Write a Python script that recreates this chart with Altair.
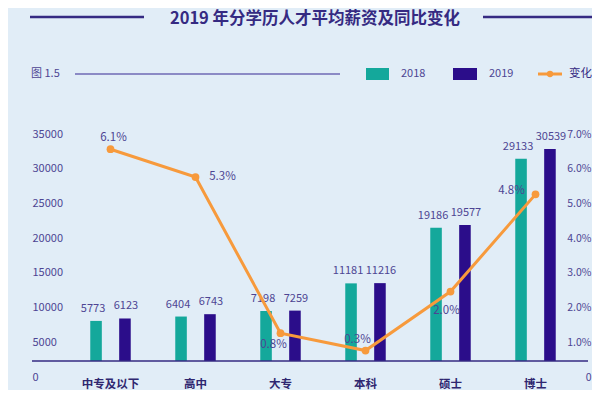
import altair as alt
import pandas as pd

# ---------------- data ----------------
categories = ["中专及以下", "高中", "大专", "本科", "硕士", "博士"]
years = ["2018", "2019"]
salary_2018 = [5773, 6404, 7198, 11181, 19186, 29133]
salary_2019 = [6123, 6743, 7259, 11216, 19577, 30539]
change_pct = [6.1, 5.3, 0.8, 0.3, 2.0, 4.8]
salary_ticks = [0, 5000, 10000, 15000, 20000, 25000, 30000, 35000]
pct_ticks = [0, 1, 2, 3, 4, 5, 6, 7]

title_text = "2019 年分学历人才平均薪资及同比变化"
figure_label = "图 1.5"
line_legend_label = "变化"

# ---------------- style ----------------
W, H = 510, 243
TEAL = "#14a89b"
PURPLE = "#2b0d8a"
ORANGE = "#f79a3c"
TEXT = "#4d4593"
DARK = "#352a82"
CAT_TEXT = "#2f2770"
FIG_LINE = "#6e68b4"
BG = "#e1edf7"
FONT = "Noto Sans CJK SC"

# label placement (pixel nudges) for the percentage labels, per category
pct_label_nudge = {
    "中专及以下": (3, -11),
    "高中": (27, 0),
    "大专": (-7, 12),
    "本科": (-8, -11),
    "硕士": (-4, 19),
    "博士": (-24, -3),
}
# horizontal nudge of the value labels per series
bar_label_dx = {"2018": -3, "2019": 1}

# ---------------- tables ----------------
bar_rows = []
for c, a, b in zip(categories, salary_2018, salary_2019):
    bar_rows.append({"cat": c, "year": years[0], "value": a})
    bar_rows.append({"cat": c, "year": years[1], "value": b})
bar_df = pd.DataFrame(bar_rows)

line_df = pd.DataFrame({
    "cat": categories,
    "change": change_pct,
    "label": [f"{v:.1f}%" for v in change_pct],
})
dummy = pd.DataFrame({"k": [0]})

x_enc = alt.X(
    "cat:N",
    sort=categories,
    scale=alt.Scale(domain=categories, paddingInner=0, paddingOuter=0),
    axis=alt.Axis(
        title=None, ticks=False, tickSize=0, domain=False, grid=False,
        labelAngle=0, labelPadding=17, labelFontSize=11.5, labelFontWeight="bold",
        labelColor=CAT_TEXT, labelFont=FONT,
    ),
)
xoff_enc = alt.XOffset(
    "year:N", scale=alt.Scale(domain=years, paddingInner=0.6, paddingOuter=0.77)
)
y_sal = alt.Y(
    "value:Q",
    scale=alt.Scale(domain=[0, 35000], nice=False, zero=True),
    axis=alt.Axis(
        orient="left", values=salary_ticks, format="d", title=None,
        ticks=False, tickSize=0, domain=False, grid=False,
        labelAlign="left", labelPadding=36, labelOffset=16,
        labelFontSize=11, labelColor=TEXT, labelFont=FONT,
    ),
)

bars = alt.Chart(bar_df).mark_bar().encode(
    x=x_enc,
    xOffset=xoff_enc,
    y=y_sal,
    color=alt.Color("year:N", scale=alt.Scale(domain=years, range=[TEAL, PURPLE]), legend=None),
)
bar_label_layers = []
for yr in years:
    bar_label_layers.append(
        alt.Chart(bar_df).transform_filter(alt.datum.year == yr).mark_text(
            dy=-12, dx=bar_label_dx[yr], fontSize=11, color=TEXT, font=FONT,
            align="center", baseline="middle",
        ).encode(
            x=x_enc,
            xOffset=xoff_enc,
            y=y_sal,
            text=alt.Text("value:Q", format="d"),
        )
    )
bar_layer = alt.layer(bars, *bar_label_layers)

y_pct = alt.Y(
    "change:Q",
    scale=alt.Scale(domain=[0, 7], nice=False, zero=True),
    axis=alt.Axis(
        orient="right", values=pct_ticks, title=None,
        labelExpr="datum.value == 0 ? '0' : format(datum.value, '.1f') + '%'",
        ticks=False, tickSize=0, domain=False, grid=False,
        labelAlign="right", labelPadding=13, labelOffset=16,
        labelFontSize=10.5, labelColor=TEXT, labelFont=FONT,
    ),
)
line = alt.Chart(line_df).mark_line(
    color=ORANGE, strokeWidth=3,
    point=alt.OverlayMarkDef(filled=True, fill=ORANGE, color=ORANGE, size=60, opacity=1),
).encode(x=x_enc, y=y_pct)

pct_texts = []
for c in categories:
    dx, dy = pct_label_nudge[c]
    pct_texts.append(
        alt.Chart(line_df).transform_filter(alt.datum.cat == c).mark_text(
            dx=dx, dy=dy, fontSize=11.5, color=TEXT, font=FONT,
            align="center", baseline="middle",
        ).encode(
            x=x_enc,
            y=y_pct,
            text="label:N",
        )
    )
line_layer = alt.layer(line, *pct_texts)


# ---------------- decorations ----------------
def hrule(x1, x2, y, color, width):
    return alt.Chart(dummy).mark_rule(color=color, strokeWidth=width).encode(
        x=alt.value(x1), x2=alt.value(x2), y=alt.value(y)
    )


def label(x, y, text, size, color, align="left", weight="normal"):
    return alt.Chart(dummy).mark_text(
        fontSize=size, color=color, font=FONT, align=align,
        baseline="middle", fontWeight=weight,
    ).encode(x=alt.value(x), y=alt.value(y), text=alt.value(text))


def swatch(x1, x2, y1, y2, color):
    return alt.Chart(dummy).mark_rect(color=color).encode(
        x=alt.value(x1), x2=alt.value(x2), y=alt.value(y1), y2=alt.value(y2)
    )


decor = [
    hrule(-36, 520, H, DARK, 1.5),
    hrule(-38, 76, -101, DARK, 2.5),
    hrule(415, 524, -101, DARK, 2.5),
    label(247, -99, title_text, 16.5, DARK, align="center", weight="bold"),
    label(-37, -44, figure_label, 11, TEXT),
    hrule(7, 272, -44, FIG_LINE, 1.5),
    swatch(298, 321, -50, -38, TEAL),
    label(333, -44, years[0], 11, TEXT),
    swatch(385, 409, -50, -38, PURPLE),
    label(421, -44, years[1], 11, TEXT),
    hrule(470, 494, -44, ORANGE, 3),
    alt.Chart(dummy).mark_point(filled=True, color=ORANGE, size=40, opacity=1).encode(
        x=alt.value(482), y=alt.value(-44)
    ),
    label(501, -44, line_legend_label, 11.5, DARK),
]

chart = alt.layer(bar_layer, line_layer, *decor).resolve_scale(
    y="independent"
).properties(
    width=W,
    height=H,
    autosize=alt.AutoSizeParams(type="none"),
    padding={"left": 60, "top": 110, "right": 14, "bottom": 29},
    background=BG,
).configure_view(stroke=None)

chart.save("out.html", embed_options={"renderer": "svg", "actions": False})
